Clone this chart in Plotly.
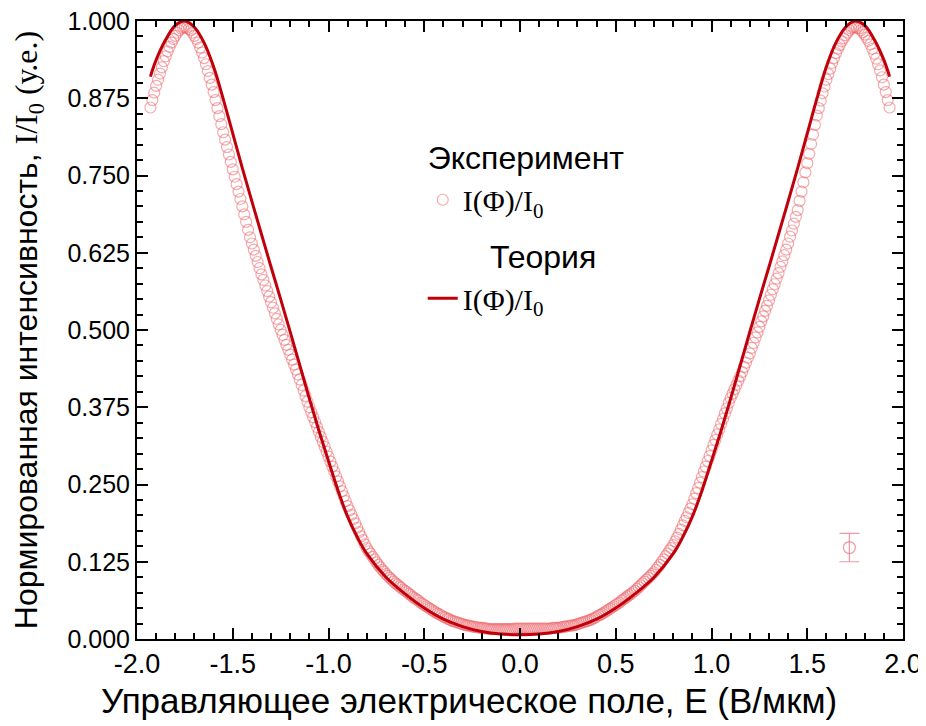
import numpy as np
import plotly.graph_objects as go

# ---------------- data ----------------
# experiment: sampled every 0.01 V/um from -1.93 to 1.93
exp_x_start = -1.93
exp_x_stop = 1.93
exp_left = [  # x = -1.93 ... 0.00
    0.860, 0.872, 0.884, 0.895, 0.905, 0.915, 0.925, 0.935, 0.943, 0.951,
    0.958, 0.965, 0.971, 0.976, 0.981, 0.985, 0.988, 0.990, 0.990, 0.989,
    0.987, 0.985, 0.981, 0.976, 0.971, 0.965, 0.957, 0.949, 0.940, 0.930,
    0.919, 0.908, 0.897, 0.885, 0.872, 0.859, 0.846, 0.833, 0.820, 0.808,
    0.796, 0.784, 0.772, 0.760, 0.748, 0.736, 0.724, 0.712, 0.700, 0.687,
    0.675, 0.662, 0.650, 0.640, 0.630, 0.620, 0.610, 0.600, 0.590, 0.581,
    0.572, 0.563, 0.554, 0.545, 0.536, 0.527, 0.518, 0.509, 0.500, 0.492,
    0.484, 0.476, 0.468, 0.460, 0.452, 0.444, 0.436, 0.428, 0.420, 0.411,
    0.402, 0.393, 0.384, 0.375, 0.367, 0.359, 0.351, 0.343, 0.335, 0.327,
    0.319, 0.311, 0.303, 0.295, 0.287, 0.279, 0.271, 0.263, 0.255, 0.247,
    0.239, 0.231, 0.223, 0.215, 0.208, 0.201, 0.194, 0.187, 0.180, 0.173,
    0.166, 0.160, 0.153, 0.147, 0.142, 0.138, 0.133, 0.129, 0.124, 0.120,
    0.116, 0.112, 0.109, 0.105, 0.102, 0.099, 0.096, 0.093, 0.090, 0.088,
    0.085, 0.083, 0.080, 0.078, 0.076, 0.073, 0.071, 0.068, 0.066, 0.064,
    0.062, 0.059, 0.057, 0.055, 0.053, 0.051, 0.049, 0.047, 0.045, 0.043,
    0.041, 0.040, 0.038, 0.036, 0.035, 0.033, 0.032, 0.030, 0.029, 0.028,
    0.027, 0.026, 0.025, 0.024, 0.023, 0.022, 0.022, 0.021, 0.020, 0.020,
    0.019, 0.019, 0.018, 0.018, 0.018, 0.017, 0.017, 0.016, 0.016, 0.016,
    0.016, 0.016, 0.016, 0.016, 0.016, 0.016, 0.016, 0.016, 0.016, 0.016,
    0.017, 0.017, 0.017, 0.017,
]
exp_right = [  # x = 0.01 ... 1.93
    0.017, 0.017, 0.017, 0.017, 0.017, 0.017, 0.017, 0.017, 0.017, 0.017,
    0.017, 0.017, 0.017, 0.017, 0.017, 0.017, 0.018, 0.018, 0.018, 0.018,
    0.019, 0.019, 0.020, 0.020, 0.021, 0.021, 0.022, 0.022, 0.023, 0.024,
    0.025, 0.026, 0.027, 0.028, 0.029, 0.030, 0.031, 0.033, 0.034, 0.036,
    0.038, 0.039, 0.041, 0.043, 0.045, 0.047, 0.049, 0.051, 0.053, 0.055,
    0.057, 0.059, 0.062, 0.064, 0.066, 0.069, 0.071, 0.073, 0.076, 0.078,
    0.081, 0.084, 0.087, 0.090, 0.093, 0.096, 0.099, 0.102, 0.105, 0.108,
    0.112, 0.116, 0.120, 0.125, 0.129, 0.134, 0.138, 0.143, 0.147, 0.152,
    0.158, 0.164, 0.170, 0.177, 0.184, 0.191, 0.197, 0.204, 0.211, 0.218,
    0.227, 0.236, 0.244, 0.253, 0.262, 0.271, 0.279, 0.288, 0.296, 0.305,
    0.314, 0.322, 0.331, 0.339, 0.348, 0.356, 0.365, 0.373, 0.382, 0.390,
    0.397, 0.404, 0.411, 0.418, 0.425, 0.432, 0.440, 0.447, 0.455, 0.462,
    0.471, 0.479, 0.488, 0.496, 0.505, 0.514, 0.522, 0.531, 0.539, 0.548,
    0.557, 0.566, 0.574, 0.583, 0.592, 0.602, 0.611, 0.621, 0.630, 0.640,
    0.651, 0.661, 0.672, 0.683, 0.694, 0.709, 0.724, 0.739, 0.755, 0.770,
    0.785, 0.801, 0.816, 0.832, 0.847, 0.859, 0.871, 0.883, 0.894, 0.905,
    0.914, 0.923, 0.932, 0.940, 0.948, 0.955, 0.961, 0.967, 0.972, 0.977,
    0.981, 0.985, 0.988, 0.990, 0.990, 0.989, 0.988, 0.985, 0.982, 0.978,
    0.973, 0.968, 0.962, 0.955, 0.947, 0.939, 0.930, 0.920, 0.909, 0.897,
    0.885, 0.872, 0.860,
]
exp_y = exp_left + exp_right
exp_x = np.round(np.linspace(exp_x_start, exp_x_stop, len(exp_y)), 2)

theory_x = [-1.93, -1.90, -1.85, -1.80, -1.75, -1.70, -1.65, -1.60, -1.55, -1.50,
            -1.45, -1.40, -1.35, -1.30, -1.25, -1.20, -1.15, -1.10, -1.05, -1.00,
            -0.95, -0.90, -0.85, -0.80, -0.70, -0.60, -0.50, -0.40, -0.30, -0.20,
            -0.10, 0.00,
            0.10, 0.20, 0.30, 0.40, 0.50, 0.60, 0.70, 0.80, 0.85, 0.90,
            0.95, 1.00, 1.05, 1.10, 1.15, 1.20, 1.25, 1.30, 1.35, 1.40,
            1.45, 1.50, 1.55, 1.60, 1.65, 1.70, 1.75, 1.80, 1.85, 1.90, 1.93]
theory_y = [0.910, 0.937, 0.970, 0.993, 1.000, 0.990, 0.965, 0.926, 0.874, 0.818,
            0.762, 0.708, 0.655, 0.602, 0.550, 0.497, 0.443, 0.389, 0.337, 0.288,
            0.240, 0.198, 0.165, 0.138, 0.100, 0.073, 0.050, 0.032, 0.020, 0.012,
            0.008, 0.007,
            0.008, 0.012, 0.020, 0.032, 0.050, 0.073, 0.100, 0.138, 0.165, 0.198,
            0.240, 0.288, 0.337, 0.389, 0.443, 0.497, 0.550, 0.602, 0.655, 0.708,
            0.762, 0.818, 0.874, 0.926, 0.965, 0.990, 1.000, 0.993, 0.970, 0.937, 0.910]

err_x = [1.72]
err_y = [0.148]
err_size = [0.023]

x_ticks = [-2.0, -1.5, -1.0, -0.5, 0.0, 0.5, 1.0, 1.5, 2.0]
x_tick_labels = ["-2.0", "-1.5", "-1.0", "-0.5", "0.0", "0.5", "1.0", "1.5", "2.0"]
y_ticks = [0.0, 0.125, 0.25, 0.375, 0.5, 0.625, 0.75, 0.875, 1.0]
y_tick_labels = ["0.000", "0.125", "0.250", "0.375", "0.500", "0.625", "0.750", "0.875", "1.000"]

x_title = "Управляющее электрическое поле, E (В/мкм)"
y_title = ("Нормированная интенсивность, "
           "<span style=\"font-family:'Liberation Serif'\">I/I<sub>0</sub> (у.е.)</span>")

# ---------------- figure ----------------
SANS = "Liberation Sans, Arial, sans-serif"
SERIF = "Liberation Serif, Times New Roman, serif"
EXP_COLOR = "rgba(236, 100, 105, 0.55)"
TH_COLOR = "#C0000A"

fig = go.Figure()

fig.add_trace(go.Scatter(
    x=exp_x, y=exp_y, mode="markers",
    name="I(Φ)/I<sub>0</sub>",
    legendgroup="exp",
    legendgrouptitle=dict(text="Эксперимент", font=dict(family=SANS, size=32, color="black")),
    marker=dict(symbol="circle-open", size=11, color=EXP_COLOR, line=dict(width=1.2, color=EXP_COLOR)),
))

fig.add_trace(go.Scatter(
    x=theory_x, y=theory_y, mode="lines",
    name="I(Φ)/I<sub>0</sub>",
    legendgroup="th",
    legendgrouptitle=dict(text="\u00a0\u00a0\u00a0\u00a0\u00a0\u00a0\u00a0Теория", font=dict(family=SANS, size=32, color="black")),
    line=dict(color=TH_COLOR, width=3, shape="spline", smoothing=1.0),
))

fig.add_trace(go.Scatter(
    x=err_x, y=err_y, mode="markers", showlegend=False,
    marker=dict(symbol="circle-open", size=12, color="rgba(230,120,135,0.75)",
                line=dict(width=1.2, color="rgba(230,120,135,0.75)")),
    error_y=dict(type="data", array=err_size, visible=True, color="rgba(230,120,135,0.75)",
                 thickness=1.2, width=10),
))

axis_common = dict(
    showline=True, linecolor="black", linewidth=2, mirror="ticks",
    ticks="inside", tickcolor="black", tickwidth=2, ticklen=11,
    showgrid=False, zeroline=False, automargin=False, ticklabeloverflow="allow",
)

fig.update_xaxes(
    **axis_common,
    range=[-2.0, 2.0], tickvals=x_ticks, ticktext=x_tick_labels,
    minor=dict(ticks="inside", dtick=0.1, ticklen=6, tickwidth=2, tickcolor="black", showgrid=False),
    tickfont=dict(family=SANS, size=27, color="black"),
)
fig.update_yaxes(
    **axis_common,
    range=[0.0, 1.0], tickvals=y_ticks, ticktext=y_tick_labels,
    minor=dict(ticks="inside", dtick=0.025, ticklen=6, tickwidth=2, tickcolor="black", showgrid=False),
    tickfont=dict(family=SANS, size=25, color="black"),
    title=dict(text=y_title, font=dict(family=SANS, size=32, color="black"), standoff=22),
)

# x-axis title (off-centre to the left in the original)
fig.add_annotation(
    text=x_title, xref="paper", yref="paper", x=0.433, y=-0.099,
    xanchor="center", yanchor="middle", showarrow=False,
    font=dict(family=SANS, size=35, color="black"),
)

# page body has an 8px margin: figure is 918x718 so that it fills the 926x726 window
fig.update_layout(
    width=918, height=718,
    margin=dict(l=129, r=23, t=13, b=87),
    paper_bgcolor="white", plot_bgcolor="white",
    legend=dict(x=0.373, y=0.825, xanchor="left", yanchor="top",
                bgcolor="rgba(0,0,0,0)", borderwidth=0,
                font=dict(family=SERIF, size=30, color="black"),
                tracegroupgap=12, traceorder="grouped"),
    showlegend=True,
)

fig.write_html("out.html")
